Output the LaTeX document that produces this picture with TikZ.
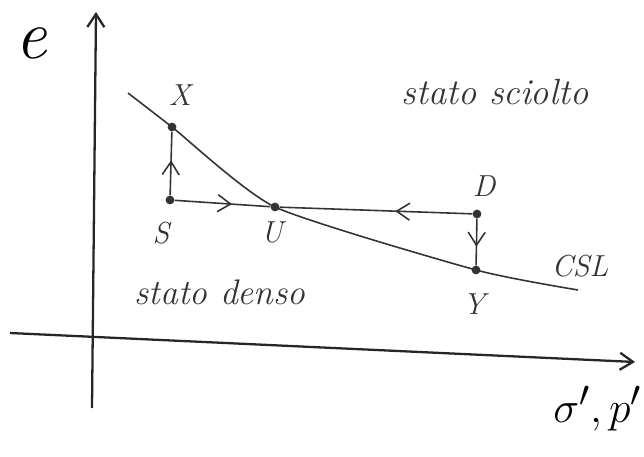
\documentclass[tikz,border=0pt]{standalone}
\usetikzlibrary{arrows.meta,decorations.markings}
\begin{document}
\begin{tikzpicture}[
  >={Straight Barb[length=2.6mm,width=3.4mm]},
  pen/.style={black!80,line width=0.9pt},
  axis/.style={black!85,line width=1.3pt},
  dot/.style={circle,fill=black!80,inner sep=0pt,minimum size=5pt},
  ptlabel/.style={font=\LARGE\itshape,black!80},
  midarrow/.style={postaction={decorate},decoration={markings,mark=at position #1 with {\arrow{>}}}},
]
  \useasboundingbox (0,0) rectangle (12.88,9.12);
  % axes
  \coordinate (eBot) at (1.84,0.96);
  \coordinate (eTop) at (1.92,8.88);
  \coordinate (sBeg) at (0.2,2.46);
  \coordinate (sEnd) at (12.7,1.88);
  \draw[axis,->] (eBot) -- (eTop);
  \draw[axis,->] (sBeg) -- (sEnd);
  \node[font=\Huge\itshape,scale=1.6] (eLabel) at (0.62,8.25) {e};
  \node[font=\Huge] (sLabel) at (11.95,0.95) {$\sigma',p'$};
  % states
  \node[dot] (X) at (3.44,6.58) {};
  \node[dot] (S) at (3.40,5.12) {};
  \node[dot] (U) at (5.50,4.98) {};
  \node[dot] (D) at (9.54,4.84) {};
  \node[dot] (Y) at (9.52,3.72) {};
  % critical state line
  \coordinate (cslBeg) at (2.56,7.26);
  \coordinate (cslEnd) at (11.56,3.32);
  \draw[pen] plot[smooth,tension=0.35] coordinates {(cslBeg) (X) (U) (Y) (cslEnd)};
  \node[ptlabel] (cslLabel) at (11.6,3.8) {CSL};
  % paths
  \draw[pen,midarrow=0.55] (S) -- (X);
  \draw[pen,midarrow=0.6] (S) -- (U);
  \draw[pen,midarrow=0.4] (D) -- (U);
  \draw[pen,midarrow=0.6] (D) -- (Y);
  \node[ptlabel] at (3.6,7.22) {X};
  \node[ptlabel] at (3.22,4.46) {S};
  \node[ptlabel] at (5.44,4.48) {U};
  \node[ptlabel] at (9.68,5.4) {D};
  \node[ptlabel] at (9.48,3.04) {Y};
  \node[font=\LARGE\itshape,black!80,scale=1.2] (loose) at (9.9,7.28) {stato sciolto};
  \node[font=\LARGE\itshape,black!80,scale=1.17] (dense) at (4.4,3.28) {stato denso};
\end{tikzpicture}
\end{document}
